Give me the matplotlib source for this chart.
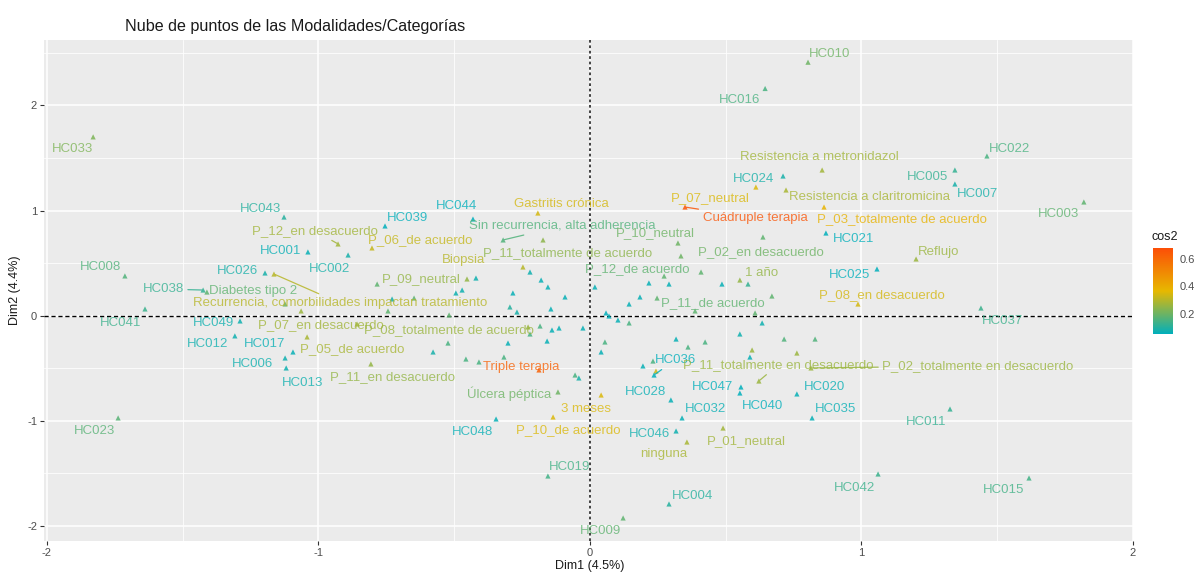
import matplotlib
matplotlib.use("Agg")
import matplotlib.pyplot as plt
import numpy as np
from matplotlib.colors import LinearSegmentedColormap, Normalize
from matplotlib.cm import ScalarMappable

plt.rcParams['font.family'] = ['Liberation Sans', 'DejaVu Sans']

# ---------------- data ----------------
title = "Nube de puntos de las Modalidades/Categorías"
x_label = "Dim1 (4.5%)"
y_label = "Dim2 (4.4%)"
x_ticks = [-2, -1, 0, 1, 2]
y_ticks = [-2, -1, 0, 1, 2]
cbar_ticks = [0.2, 0.4, 0.6]
cos2_range = (0.05, 0.68)
gradient_cols = ["#00AFBB", "#E7B800", "#FC4E07"]

ind_names = ["HC010", "HC016", "HC033", "HC022", "HC005", "HC007", "HC003", "HC024",
             "HC043", "HC039", "HC044", "HC001", "HC002", "HC026", "HC008", "HC038",
             "HC041", "HC049", "HC012", "HC017", "HC006", "HC013", "HC023", "HC048",
             "HC019", "HC009", "HC004", "HC036", "HC028", "HC047", "HC040", "HC032",
             "HC046", "HC020", "HC035", "HC011", "HC042", "HC015", "HC037", "HC025",
             "HC021"]
ind_x = [0.803, 0.645, -1.830, 1.462, 1.344, 1.344, 1.819, 0.711,
         -1.127, -0.755, -0.431, -1.039, -0.891, -1.197, -1.713, -1.425,
         -1.639, -1.289, -1.308, -1.094, -1.123, -1.119, -1.738, -0.346,
         -0.155, 0.122, 0.291, 0.236, 0.298, 0.556, 0.552, 0.339,
         0.317, 0.762, 0.818, 1.326, 1.061, 1.617, 1.440, 1.057,
         0.869]
ind_y = [2.410, 2.160, 1.700, 1.518, 1.385, 1.252, 1.081, 1.328,
         0.938, 0.853, 0.919, 0.606, 0.577, 0.406, 0.378, 0.244,
         0.064, -0.050, -0.192, -0.345, -0.402, -0.497, -0.972, -0.982,
         -1.524, -1.923, -1.790, -0.564, -0.801, -0.678, -0.735, -0.972,
         -1.096, -0.744, -0.972, -0.887, -1.505, -1.543, 0.073, 0.444,
         0.786]
ind_cos2 = [0.20, 0.15, 0.22, 0.15, 0.12, 0.08, 0.18, 0.08,
            0.10, 0.05, 0.05, 0.06, 0.08, 0.08, 0.16, 0.12,
            0.13, 0.07, 0.07, 0.06, 0.07, 0.07, 0.17, 0.06,
            0.14, 0.18, 0.10, 0.05, 0.06, 0.05, 0.05, 0.06,
            0.07, 0.06, 0.06, 0.12, 0.13, 0.14, 0.13, 0.05,
            0.05]

cat_names = ["Resistencia a metronidazol", "Resistencia a claritromicina", "P_07_neutral",
             "Cuádruple terapia", "P_03_totalmente de acuerdo", "Gastritis crónica",
             "Sin recurrencia, alta adherencia", "P_10_neutral", "P_11_totalmente de acuerdo",
             "P_02_en desacuerdo", "P_12_de acuerdo", "1 año", "P_11_de acuerdo",
             "P_08_en desacuerdo", "Reflujo", "P_12_en desacuerdo", "P_06_de acuerdo",
             "P_09_neutral", "Biopsia", "Diabetes tipo 2",
             "Recurrencia, comorbilidades impactan tratamiento", "P_07_en desacuerdo",
             "P_08_totalmente de acuerdo", "P_05_de acuerdo", "P_11_en desacuerdo",
             "Triple terapia", "Úlcera péptica", "3 meses", "P_10_de acuerdo", "ninguna",
             "P_01_neutral", "P_11_totalmente en desacuerdo", "P_02_totalmente en desacuerdo"]
cat_x = [0.855, 0.722, 0.611, 0.350, 0.862, -0.192, -0.320, 0.324, -0.173,
         0.335, 0.273, 0.552, 0.247, 0.987, 1.201, -0.928, -0.803,
         -0.453, -0.247, -1.411, -1.164, -0.858, -0.228, -1.042, -0.807,
         -0.188, -0.118, 0.041, -0.136, 0.357, 0.490, 0.622, 0.814]
cat_y = [1.385, 1.195, 1.223, 1.033, 1.033, 0.976, 0.720, 0.691, 0.720,
         0.568, 0.377, 0.339, 0.168, 0.111, 0.539, 0.682, 0.644,
         0.349, 0.463, 0.225, 0.396, -0.079, -0.107, -0.202, -0.459,
         -0.516, -0.725, -0.754, -0.963, -1.201, -1.068, -0.621, -0.497]
cat_cos2 = [0.27, 0.28, 0.35, 0.66, 0.38, 0.34, 0.16, 0.20, 0.24,
            0.20, 0.18, 0.25, 0.18, 0.34, 0.26, 0.27, 0.32,
            0.25, 0.30, 0.18, 0.30, 0.27, 0.26, 0.28, 0.25,
            0.62, 0.20, 0.35, 0.35, 0.28, 0.27, 0.26, 0.26]

# unlabeled (overlapping) points
extra_x = [-1.123, -1.064, -0.744, -0.729, -0.784, -0.648, -0.519, -0.494, -0.471,
           -0.420, -0.221, -0.180, -0.155, -0.284, -0.092, -0.295, -0.269, -0.144,
           -0.184, -0.140, -0.114, -0.026, -0.221, -0.158, -0.302, -0.523, -0.578,
           -0.317, -0.457, -0.409, -0.055, -0.041,
           0.018, 0.217, 0.291, 0.409, 0.184, 0.144, 0.486, 0.637, 0.059, 0.070,
           0.103, 0.144, 0.387, 0.582, 0.670, 0.608, 0.634, 0.552, 0.715, 0.829,
           0.055, 0.041, 0.317, 0.361, 0.424, 0.597, 0.589, 0.762, 0.195, 0.232,
           0.243]
extra_y = [0.111, 0.045, 0.045, 0.159, 0.301, 0.168, 0.007, 0.216, 0.244,
           0.358, 0.415, 0.339, 0.273, 0.216, 0.178, 0.083, 0.035, 0.064,
           -0.098, -0.136, -0.117, -0.117, -0.174, -0.241, -0.260, -0.260, -0.345,
           -0.393, -0.412, -0.440, -0.564, -0.592,
           0.273, 0.311, 0.301, 0.415, 0.178, 0.111, 0.301, 0.748, 0.026, -0.003,
           -0.041, -0.069, 0.045, 0.301, 0.187, 0.026, -0.069, -0.174, -0.222, -0.222,
           -0.250, -0.345, -0.222, -0.298, -0.250, -0.326, -0.393, -0.355, -0.478, -0.431,
           -0.526]
extra_cos2 = [0.20, 0.26, 0.18, 0.08, 0.18, 0.18, 0.18, 0.07, 0.07,
              0.07, 0.07, 0.06, 0.06, 0.06, 0.06, 0.10, 0.08, 0.06,
              0.15, 0.06, 0.06, 0.06, 0.15, 0.06, 0.06, 0.15, 0.08,
              0.15, 0.15, 0.15, 0.15, 0.08,
              0.06, 0.06, 0.06, 0.18, 0.06, 0.06, 0.06, 0.18, 0.05, 0.05,
              0.06, 0.15, 0.18, 0.12, 0.18, 0.18, 0.07, 0.07, 0.16, 0.16,
              0.15, 0.06, 0.06, 0.15, 0.15, 0.26, 0.06, 0.26, 0.06, 0.15,
              0.33]

# ---------------- layout (label offsets in pixels: dx right, dy down) ----------------
label_offsets = {
    "HC010": (22, -8), "HC016": (-26, 12), "HC033": (-21, 12), "HC022": (23, -7),
    "HC005": (-27, 7), "HC007": (23, 10), "HC003": (-25, 12), "HC024": (-30, 3),
    "HC043": (-24, -8), "HC039": (22, -8), "HC044": (-16, -13), "HC001": (-27, -1),
    "HC002": (-19, 14), "HC026": (-28, -2), "HC008": (-24, -9), "HC038": (-40, -1),
    "HC041": (-24, 14), "HC049": (-27, 2), "HC012": (-27, 8), "HC017": (-28, -8),
    "HC006": (-33, 6), "HC013": (16, 15), "HC023": (-24, 13), "HC048": (-24, 13),
    "HC019": (22, -9), "HC009": (-23, 13), "HC004": (23, -8), "HC036": (21, -15),
    "HC028": (-25, -8), "HC047": (-28, 0), "HC040": (23, 13), "HC032": (23, -9),
    "HC046": (-27, 3), "HC020": (28, -7), "HC035": (23, -9), "HC011": (-24, 13),
    "HC042": (-24, 14), "HC015": (-25, 12), "HC037": (22, 13), "HC025": (-27, 6),
    "HC021": (28, 6),
    "Resistencia a metronidazol": (-3, -13), "Resistencia a claritromicina": (83, 7),
    "P_07_neutral": (-46, 11), "Cuádruple terapia": (70, 11),
    "P_03_totalmente de acuerdo": (78, 12), "Gastritis crónica": (24, -9),
    "Sin recurrencia, alta adherencia": (59, -14), "P_10_neutral": (-23, -10),
    "P_11_totalmente de acuerdo": (25, 13), "P_02_en desacuerdo": (80, -4),
    "P_12_de acuerdo": (-27, -7), "1 año": (22, -7), "P_11_de acuerdo": (56, 5),
    "P_08_en desacuerdo": (24, -9), "Reflujo": (22, -7), "P_12_en desacuerdo": (-23, -13),
    "P_06_de acuerdo": (48, -8), "P_09_neutral": (-46, 0), "Biopsia": (-59, -7),
    "Diabetes tipo 2": (46, -1), "Recurrencia, comorbilidades impactan tratamiento": (66, 29),
    "P_07_en desacuerdo": (-36, 1), "P_08_totalmente de acuerdo": (-79, 3),
    "P_05_de acuerdo": (45, 12), "P_11_en desacuerdo": (22, 13), "Triple terapia": (-18, -3),
    "Úlcera péptica": (-49, 2), "3 meses": (-15, 14), "P_10_de acuerdo": (15, 13),
    "ninguna": (-23, 12), "P_01_neutral": (23, 13), "P_11_totalmente en desacuerdo": (19, -16),
    "P_02_totalmente en desacuerdo": (167, -2),
}
with_segment = {"HC038", "HC036", "Cuádruple terapia", "Sin recurrencia, alta adherencia",
                "P_12_en desacuerdo", "Recurrencia, comorbilidades impactan tratamiento",
                "P_11_totalmente en desacuerdo", "P_02_totalmente en desacuerdo"}

# ---------------- drawing ----------------
W, H = 1195, 576
fig = plt.figure(figsize=(W / 100, H / 100), dpi=100)
ax = fig.add_axes([44 / W, 1 - 541 / H, (1133 - 44) / W, (541 - 40) / H])
ax.set_facecolor("#EBEBEB")
for s in ax.spines.values():
    s.set_visible(False)

cmap = LinearSegmentedColormap.from_list("fx", gradient_cols)
norm = Normalize(*cos2_range)

ax.set_xlim(-2.011, 2.0)
ax.set_ylim(-2.142, 2.621)
ax.set_xticks(x_ticks)
ax.set_yticks(y_ticks)
ax.set_xticklabels([str(t) for t in x_ticks])
ax.set_yticklabels([str(t) for t in y_ticks])
ax.set_xticks(np.arange(-1.5, 2.0, 1.0), minor=True)
ax.set_yticks(np.arange(-1.5, 2.6, 1.0), minor=True)
ax.grid(which="major", color="white", lw=1.1)
ax.grid(which="minor", color="white", lw=0.55)
ax.set_axisbelow(True)
ax.tick_params(which="major", length=3, color="#333333", labelsize=8,
               labelcolor="#4D4D4D", pad=2)
ax.tick_params(which="minor", length=0)

ax.axhline(0, color="black", lw=1.0, ls=(0, (3, 2)), zorder=1.5)
ax.axvline(0, color="#333333", lw=1.3, ls=(0, (1.5, 1.5)), zorder=1.5)

all_x = extra_x + ind_x + cat_x
all_y = extra_y + ind_y + cat_y
all_c = extra_cos2 + ind_cos2 + cat_cos2
ax.scatter(all_x, all_y, c=all_c, cmap=cmap, norm=norm, marker="^", s=14,
           linewidths=0, alpha=0.85, zorder=3)

def put_labels(names, xs, ys, cs):
    for n, x, y, c in zip(names, xs, ys, cs):
        dx, dy = label_offsets[n]
        col = cmap(norm(c))
        kw = {}
        if n in with_segment:
            kw["arrowprops"] = dict(arrowstyle="-", color=col, lw=0.9, alpha=0.85,
                                    shrinkA=1, shrinkB=1)
        ax.annotate(n, (x, y), xytext=(dx, -dy), textcoords="offset pixels",
                    ha="center", va="center", fontsize=9.5, color=col, alpha=0.78,
                    zorder=4, **kw)

put_labels(ind_names, ind_x, ind_y, ind_cos2)
put_labels(cat_names, cat_x, cat_y, cat_cos2)

fig.text(125 / W, 1 - 27 / H, title, fontsize=11.6, color="#1a1a1a", ha="left", va="center")
fig.text(590 / W, 1 - 566 / H, x_label, fontsize=9, color="#1a1a1a", ha="center", va="center")
fig.text(15 / W, 1 - 290 / H, y_label, fontsize=9, color="#1a1a1a", ha="center", va="center",
         rotation=90)

# colour bar
cax = fig.add_axes([1153 / W, 1 - 334 / H, 20 / W, (334 - 248) / H])
sm = ScalarMappable(norm=norm, cmap=cmap)
cb = fig.colorbar(sm, cax=cax, ticks=cbar_ticks)
cb.outline.set_visible(False)
cb.ax.tick_params(length=3, color="white", labelsize=8, labelcolor="#4D4D4D", pad=2)
cb.ax.set_yticklabels([f"{t:.1f}" for t in cbar_ticks])
fig.text(1152 / W, 1 - 237 / H, "cos2", fontsize=9, color="#1a1a1a", ha="left", va="center")

fig.savefig("out.png", dpi=100)
